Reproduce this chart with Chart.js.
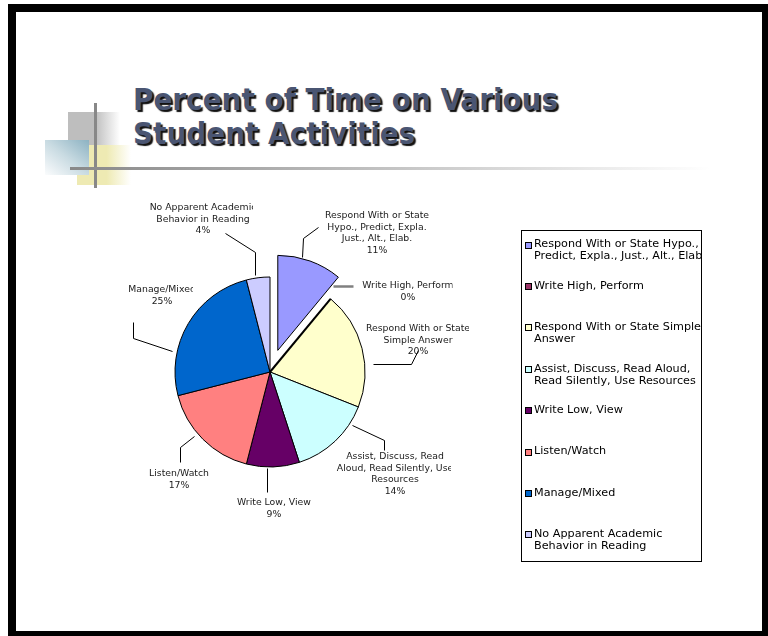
<!DOCTYPE html>
<html>
<head>
<meta charset="utf-8">
<title>Percent of Time on Various Student Activities</title>
<script src="https://cdn.jsdelivr.net/npm/chart.js@4.4.1/dist/chart.umd.min.js"></script>
<style>
  html, body { margin: 0; padding: 0; background: #fff; }
  body { width: 768px; height: 636px; position: relative; overflow: hidden; }
  .frame { position: absolute; left: 8px; top: 4px; width: 746px; height: 619px; border: 8px solid #000; }
  .deco { position: absolute; }
  .sq-gray { left: 68px; top: 112px; width: 52px; height: 33px;
    background: linear-gradient(to right, #bebebe 0%, #bebebe 52%, #fff 100%); }
  .sq-yellow { left: 77px; top: 145px; width: 54px; height: 40px;
    background: linear-gradient(to right, #eeeab3 0%, #eeeab3 55%, #fff 100%); }
  .sq-blue { left: 45px; top: 140px; width: 44px; height: 35px;
    background: linear-gradient(to bottom left, #8cb2c2 0%, #c9dbe2 50%, #fbfcfd 100%); }
  .vline { left: 94px; top: 103px; width: 3px; height: 85px; background: #888; }
  .hline { left: 70px; top: 167px; width: 640px; height: 3px;
    background: linear-gradient(to right, #888 0%, #fff 100%); }
  .title { position: absolute; left: 133px; top: 83px; margin: 0;
    font: bold 31px "DejaVu Sans Condensed", "DejaVu Sans", sans-serif; font-stretch: condensed;
    line-height: 33.5px; color: #4a5572; text-shadow: 2px 2px 1px #111; white-space: nowrap; }
  #chart { position: absolute; left: 0; top: 0; }
</style>
</head>
<body>
<div class="frame"></div>
<div class="deco sq-gray"></div>
<div class="deco sq-yellow"></div>
<div class="deco sq-blue"></div>
<div class="deco vline"></div>
<div class="deco hline"></div>
<h1 class="title">Percent of Time on Various<br>Student Activities</h1>
<canvas id="chart" width="768" height="636"></canvas>
<script>
// Activity categories and the share of reading time spent on each (%)
const categories = [
  'Respond With or State Hypo., Predict, Expla., Just., Alt., Elab.',
  'Write High, Perform',
  'Respond With or State Simple Answer',
  'Assist, Discuss, Read Aloud, Read Silently, Use Resources',
  'Write Low, View',
  'Listen/Watch',
  'Manage/Mixed',
  'No Apparent Academic Behavior in Reading'
];
const percentTime = [11, 0, 20, 14, 9, 17, 25, 4];

// Wrapped text for the slice callouts and for the legend
const calloutLines = [
  ['Respond With or State', 'Hypo., Predict, Expla.', 'Just., Alt., Elab.'],
  ['Write High, Perform'],
  ['Respond With or State', 'Simple Answer'],
  ['Assist, Discuss, Read', 'Aloud, Read Silently, Use', 'Resources'],
  ['Write Low, View'],
  ['Listen/Watch'],
  ['Manage/Mixed'],
  ['No Apparent Academic', 'Behavior in Reading']
];
const legendLines = [
  ['Respond With or State Hypo.,', 'Predict, Expla., Just., Alt., Elab.'],
  ['Write High, Perform'],
  ['Respond With or State Simple', 'Answer'],
  ['Assist, Discuss, Read Aloud,', 'Read Silently, Use Resources'],
  ['Write Low, View'],
  ['Listen/Watch'],
  ['Manage/Mixed'],
  ['No Apparent Academic', 'Behavior in Reading']
];

// Styling
const sliceColors = ['#9999FF', '#993366', '#FFFFCC', '#CCFFFF', '#660066', '#FF8080', '#0066CC', '#CCCCFF'];
const explode = [23, 0, 0, 0, 0, 0, 0, 0];

// Callout placement, relative to the point where each slice's mid-angle meets its rim:
// dx/dy = text centre / first line, clip = right edge of the text box, leader = polyline
const calloutLayout = [
  { dx: 67,    dy: -45,   clip: 119,  leader: [[-8, -4], [-7, -23], [8, -34]] },
  { dx: 77.4,  dy: -12.8, clip: 122,  leader: [[2.4, -12.8], [22.4, -12.8]], color: '#808080', width: 2.5 },
  { dx: 56,    dy: -19.4, clip: 107,  leader: [[11, 15.6], [49, 15.6], [56, 1.6]] },
  { dx: 60,    dy: 15.7,  clip: 116,  leader: [[17, -16.3], [49, -1.3], [49, 8.7]] },
  { dx: 1,     dy: 36,    clip: 38,   leader: [[-6, 1], [-6, 25]] },
  { dx: -23.8, dy: 34.8,  clip: 200,  leader: [[-8.8, -3.2], [-22.8, 7.8], [-22.8, 22.8]] },
  { dx: -26.2, dy: -33.6, clip: 4.8,  leader: [[-16.2, 27.4], [-55.2, 14.4], [-55.2, -1.6]] },
  { dx: -55.1, dy: -69.8, clip: -5.1, leader: [[-3.1, -2.8], [-3.1, -25.8], [-33.1, -44.8]] }
];
const calloutFont = '9.3px "DejaVu Sans", Verdana, sans-serif';
const calloutLineHeight = 11.5;

const legendBox = { left: 521, top: 230, width: 180, height: 331 };
const legendFont = '11.2px "DejaVu Sans", Verdana, sans-serif';
const legendFirstY = 244.5;
const legendStep = 41.4;
const legendLineHeight = 12;

const pieExtras = {
  id: 'pieExtras',
  beforeDatasetsDraw(chart) {
    // pull exploded slices straight out along their mid-angle
    chart.getDatasetMeta(0).data.forEach((arc, i) => {
      const d = explode[i] || 0;
      arc.$home = { x: arc.x, y: arc.y };
      if (!d) return;
      const mid = (arc.startAngle + arc.endAngle) / 2;
      arc.x += Math.cos(mid) * d;
      arc.y += Math.sin(mid) * d;
    });
  },
  afterDatasetsDraw(chart) {
    const ctx = chart.ctx;
    const meta = chart.getDatasetMeta(0);
    const values = chart.data.datasets[0].data;
    meta.data.forEach(arc => { if (arc.$home) { arc.x = arc.$home.x; arc.y = arc.$home.y; } });

    // zero-width slices still show as a radius line
    meta.data.forEach((arc, i) => {
      if (values[i] !== 0) return;
      ctx.save();
      ctx.strokeStyle = '#000';
      ctx.lineWidth = 2;
      ctx.beginPath();
      ctx.moveTo(arc.x, arc.y);
      ctx.lineTo(arc.x + Math.cos(arc.startAngle) * arc.outerRadius,
                 arc.y + Math.sin(arc.startAngle) * arc.outerRadius);
      ctx.stroke();
      ctx.restore();
    });

    // callouts with leader lines
    meta.data.forEach((arc, i) => {
      const lay = calloutLayout[i];
      const mid = (arc.startAngle + arc.endAngle) / 2;
      const r = arc.outerRadius + (explode[i] || 0);
      const ex = arc.x + Math.cos(mid) * r;
      const ey = arc.y + Math.sin(mid) * r;

      ctx.save();
      ctx.strokeStyle = lay.color || '#000';
      ctx.lineWidth = lay.width || 1;
      ctx.beginPath();
      lay.leader.forEach(([px, py], k) => {
        const x = Math.round(ex + px) + 0.5, y = Math.round(ey + py) + 0.5;
        if (k === 0) ctx.moveTo(x, y); else ctx.lineTo(x, y);
      });
      ctx.stroke();
      ctx.restore();

      ctx.save();
      ctx.beginPath();
      ctx.rect(0, 0, ex + lay.clip, chart.height);
      ctx.clip();
      ctx.font = calloutFont;
      ctx.fillStyle = '#1a1a1a';
      ctx.textAlign = 'center';
      ctx.textBaseline = 'middle';
      const lines = calloutLines[i].concat([values[i] + '%']);
      lines.forEach((t, k) => ctx.fillText(t, ex + lay.dx, ey + lay.dy + k * calloutLineHeight));
      ctx.restore();
    });

    // legend panel
    const b = legendBox;
    ctx.save();
    ctx.strokeStyle = '#000';
    ctx.lineWidth = 1;
    ctx.strokeRect(b.left + 0.5, b.top + 0.5, b.width, b.height);
    ctx.beginPath();
    ctx.rect(b.left + 1, b.top + 1, b.width - 1, b.height - 1);
    ctx.clip();
    ctx.font = legendFont;
    ctx.textAlign = 'left';
    ctx.textBaseline = 'middle';
    const colors = chart.data.datasets[0].backgroundColor;
    legendLines.forEach((lines, i) => {
      const y = legendFirstY + i * legendStep;
      ctx.fillStyle = colors[i];
      ctx.fillRect(b.left + 4, Math.round(y) - 3, 7, 7);
      ctx.strokeStyle = '#000';
      ctx.strokeRect(b.left + 4.5, Math.round(y) - 2.5, 6, 6);
      ctx.fillStyle = '#000';
      lines.forEach((t, k) => ctx.fillText(t, b.left + 13, y + k * legendLineHeight));
    });
    ctx.restore();
  }
};

new Chart(document.getElementById('chart'), {
  type: 'pie',
  data: {
    labels: categories,
    datasets: [{
      data: percentTime,
      backgroundColor: sliceColors,
      borderColor: '#000',
      borderWidth: 1,
      radius: 95
    }]
  },
  options: {
    responsive: false,
    animation: false,
    events: [],
    layout: { padding: { left: 150, right: 378, top: 260, bottom: 152 } },
    plugins: {
      legend: { display: false },
      tooltip: { enabled: false },
      title: { display: false }
    }
  },
  plugins: [pieExtras]
});
</script>
</body>
</html>
